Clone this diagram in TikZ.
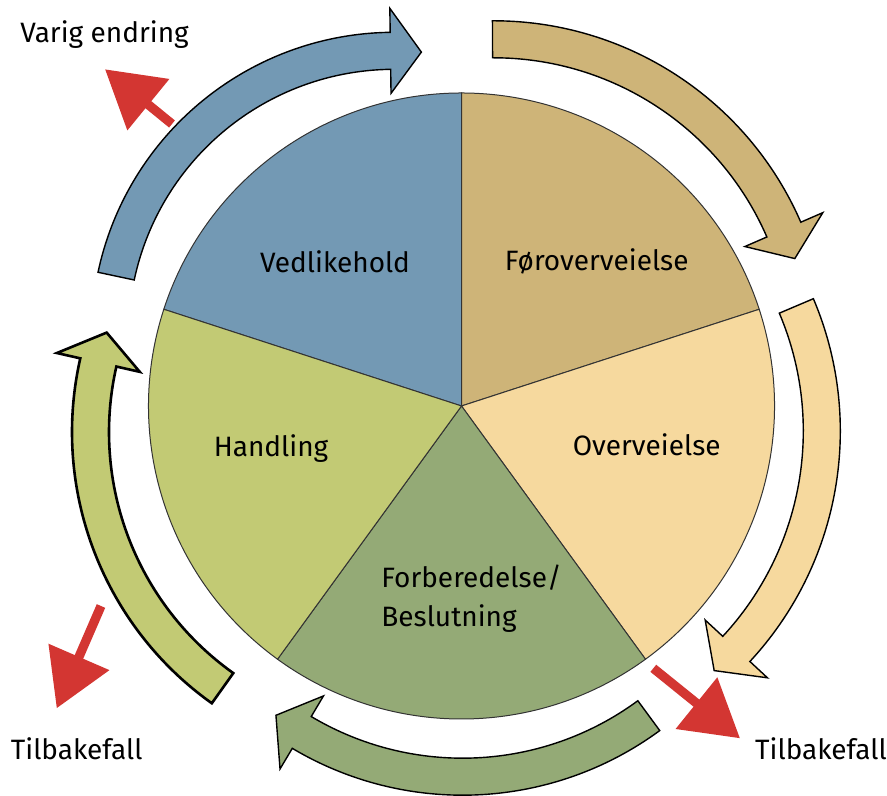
\documentclass[tikz,border=0pt]{standalone}
\usepackage{fontspec}
\setmainfont{Fira Sans}
\usetikzlibrary{arrows.meta, calc}

\definecolor{vedblue}{HTML}{7399B4}
\definecolor{fortan}{HTML}{CEB478}
\definecolor{ovrsand}{HTML}{F6D99E}
\definecolor{besgreen}{HTML}{94AA76}
\definecolor{hndolive}{HTML}{C2CA74}
\definecolor{fallred}{HTML}{D33632}

% curved band arrow: centre, mid radius, tail angle, head-base angle, style
\newcommand{\cyclearrow}[5]{%
  \pgfmathsetmacro{\arrRo}{#2+18.5}%
  \pgfmathsetmacro{\arrRi}{#2-18.5}%
  \pgfmathsetmacro{\arrRw}{#2+42.5}%
  \pgfmathsetmacro{\arrRv}{#2-42.5}%
  \pgfmathsetmacro{\arrTip}{#4-31/#2*180/pi}%
  \draw[#5] ([shift={(#3:\arrRo)}]#1) arc[start angle=#3, end angle=#4, radius=\arrRo]
    -- ([shift={(#4:\arrRw)}]#1) -- ([shift={(\arrTip:#2)}]#1)
    -- ([shift={(#4:\arrRv)}]#1) -- ([shift={(#4:\arrRi)}]#1)
    arc[start angle=#4, end angle=#3, radius=\arrRi] -- cycle;}

\begin{document}
\begin{tikzpicture}[
  x=0.5pt, y=0.5pt,
  font=\fontsize{14}{17.5}\selectfont,
  sector/.style={draw=black!80, line width=0.5pt},
  cyc/.style={draw=black, line width=0.7pt, line join=miter},
  lbl/.style={anchor=base, inner sep=0pt},
  fall/.style={draw=fallred, line width=4.6pt, -{Triangle[length=28pt, width=32pt]}}
]
\useasboundingbox (0,0) rectangle (887,796);

% ================================================= stage wheel
\coordinate (pc) at (461.5,390);
\draw[sector, fill=vedblue]  (pc) -- ++(90:313)  arc[start angle=90,  end angle=162, radius=313] -- cycle;
\draw[sector, fill=fortan]   (pc) -- ++(18:313)  arc[start angle=18,  end angle=90,  radius=313] -- cycle;
\draw[sector, fill=ovrsand]  (pc) -- ++(-54:313) arc[start angle=-54, end angle=18,  radius=313] -- cycle;
\draw[sector, fill=besgreen] (pc) -- ++(234:313) arc[start angle=234, end angle=306, radius=313] -- cycle;
\draw[sector, fill=hndolive] (pc) -- ++(162:313) arc[start angle=162, end angle=234, radius=313] -- cycle;

\node[lbl] (ved)   at (335,523)   {Vedlikehold};
\node[lbl] (forov) at (596.7,525) {Føroverveielse};
\node[lbl] (ovr)   at (646.7,340.3) {Overveielse};
\node[lbl] (hnd)   at (271,339.3) {Handling};
\node[lbl, anchor=base west, align=left] (fbs) at (381,169.3) {Forberedelse/\\[2pt]Beslutning};

% ================================================= cycle arrows
\coordinate (cVed) at (394.4,460.7);
\coordinate (cFor) at (493.6,440.2);
\coordinate (cOvr) at (501.5,364.9);
\coordinate (cFbs) at (462.6,333.8);
\coordinate (cHnd) at (404.9,363.9);
\cyclearrow{cVed}{284.5}{168.0}{90.8}{cyc, fill=vedblue}
\cyclearrow{cFor}{316.5}{90.2}{23.5}{cyc, fill=fortan}
\cyclearrow{cOvr}{320.3}{23.0}{-42.85}{cyc, fill=ovrsand}
\cyclearrow{cFbs}{314.5}{-53.7}{-120.76}{cyc, fill=besgreen}
\cyclearrow{cHnd}{314.4}{234.55}{167.2}{cyc, line width=1.3pt, fill=hndolive}

% ================================================= exits
\node[lbl] (varig) at (104.5,753) {Varig endring};
\node[lbl] (tbL)   at (76.7,36)   {Tilbakefall};
\node[lbl] (tbR)   at (821,36)    {Tilbakefall};

\coordinate (e1s) at (172,672);   \coordinate (e1t) at (105,726.7);
\coordinate (e2s) at (101,190);   \coordinate (e2t) at (56.7,87.7);
\coordinate (e3s) at (653.3,127.7); \coordinate (e3t) at (740,57.7);
\draw[fall] (e1s) -- (e1t);
\draw[fall] (e2s) -- (e2t);
\draw[fall] (e3s) -- (e3t);

\end{tikzpicture}
\end{document}
